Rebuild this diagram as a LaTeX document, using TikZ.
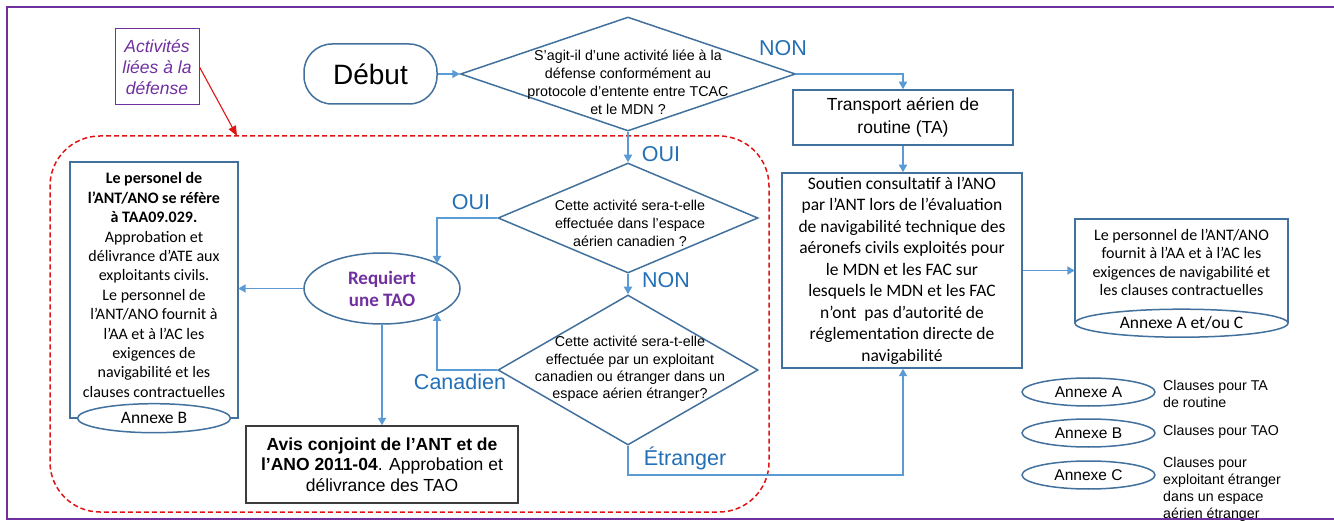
\documentclass[tikz,border=0pt]{standalone}
\usepackage{fontspec}
\setmainfont{Liberation Sans}
\newfontfamily\calfont{Carlito}
\usetikzlibrary{arrows.meta,shapes.geometric,calc}
\definecolor{bordc}{RGB}{65,113,156}
\definecolor{arrc}{RGB}{91,155,213}
\definecolor{labc}{RGB}{36,112,182}
\definecolor{purp}{RGB}{112,48,160}
\definecolor{redc}{RGB}{225,20,20}
\definecolor{darkb}{RGB}{60,60,60}
\begin{document}
\begin{tikzpicture}[x=1pt,y=-1pt,
  shp/.style={draw=bordc, line width=1.5pt, fill=white, inner sep=0pt, align=center},
  txt/.style={inner sep=0pt, align=center},
  conn/.style={draw=arrc, line width=1.8pt, -{Triangle[width=8pt,length=7.5pt]}},
  lab/.style={text=labc, inner sep=0pt, font=\fontsize{21.5}{24}\selectfont},
  ariasm/.style={font=\fontsize{14.3}{18}\selectfont},
  calsm/.style={font={\calfont\fontsize{16}{19.4}\selectfont}},
  ann/.style={shp, ellipse, minimum width=#1, minimum height=28pt},
]
\useasboundingbox (0,0) rectangle (1334,521);
\fill[white] (0,0) rectangle (1334,521);

% defence zone
\node[draw=redc, dash pattern=on 5pt off 3pt, line width=1.5pt, rounded corners=50pt,
  minimum width=719pt, minimum height=376pt, inner sep=0pt] (zone) at (409.5,324) {};
\coordinate (zonetop) at (237,136);

% activities label box
\node[draw=purp, line width=1pt, minimum width=84pt, minimum height=76pt, txt,
  text=purp, font=\fontsize{17.5}{21.3}\selectfont\itshape] (actdef) at (157,67)
  {Activités\\liées à la\\défense};
\draw[redc, line width=1.1pt, -{Triangle[width=8pt,length=10pt]}] (actdef.east) -- (zonetop);

% start
\node[shp, rounded corners=28pt, minimum width=133pt, minimum height=60pt,
  font=\fontsize{28}{30}\selectfont] (debut) at (370.5,74) {Début};

% diamonds
\node[shp, diamond, minimum width=335pt, minimum height=114pt] (d1) at (628,74) {};
\node[txt, ariasm] (d1t) at (628,82)
  {S’agit-il d’une activité liée à la\\défense conformément au\\protocole d’entente entre TCAC\\et le MDN ?};
\node[shp, diamond, minimum width=260pt, minimum height=110pt] (d2) at (628,218) {};
\node[txt, ariasm] (d2t) at (630,223)
  {Cette activité sera-t-elle\\effectuée dans l’espace\\aérien canadien ?};
\node[shp, diamond, minimum width=260pt, minimum height=150pt] (d3) at (628,370) {};
\node[txt, ariasm, font=\fontsize{14.3}{17.3}\selectfont] (d3t) at (630,369)
  {Cette activité sera-t-elle\\effectuée par un exploitant\\canadien ou étranger dans un\\espace aérien étranger?};

% transport
\node[shp, minimum width=220pt, minimum height=55pt, font=\fontsize{17.5}{23}\selectfont]
  (trans) at (903,117.5) {Transport aérien de\\routine (TA)};
% soutien
\node[shp, minimum width=240pt, minimum height=195pt,
  font={\calfont\fontsize{17.5}{21.5}\selectfont}] (sout) at (902,270.5)
  {Soutien consultatif à l’ANO\\par l’ANT lors de l’évaluation\\de navigabilité technique des\\aéronefs civils exploités pour\\le MDN et les FAC sur\\lesquels le MDN et les FAC\\n’ont\ \ pas d’autorité de\\réglementation directe de\\navigabilité};

% annex A/C document
\node[minimum width=213pt, minimum height=104pt, inner sep=0pt] (acdoc) at (1181.5,271) {};
\draw[draw=bordc, line width=1.5pt] (acdoc.south west) -- (acdoc.north west)
  -- (acdoc.north east) -- (acdoc.south east);
\node[txt, font={\calfont\fontsize{16}{18.4}\selectfont}] (actxt) at (1181.5,262.5)
  {Le personnel de l’ANT/ANO\\fournit à l’AA et à l’AC les\\exigences de navigabilité et\\les clauses contractuelles};
\node[ann=213pt, font={\calfont\fontsize{17.5}{19}\selectfont}] (acell) at (acdoc.south) {Annexe A et/ou C};

% left document
\node[minimum width=168pt, minimum height=256pt, inner sep=0pt] (pers) at (154,290) {};
\draw[draw=bordc, line width=1.5pt] ($(pers.south west)+(8,0)$) -- (pers.south west) -- (pers.north west)
  -- (pers.north east) -- (pers.south east) -- ++(-8,0);
\node[txt, calsm] (perstxt) at (154,285)
  {\textbf{Le personel de}\\\textbf{l’ANT/ANO se réfère}\\\textbf{à TAA09.029.}\\Approbation et\\délivrance d’ATE aux\\exploitants civils.\\Le personnel de\\l’ANT/ANO fournit à\\l’AA et à l’AC les\\exigences de\\navigabilité et les\\clauses contractuelles};
\node[ann=153pt, minimum height=29pt, font={\calfont\fontsize{17.5}{19}\selectfont}] (annb) at (pers.south) {Annexe B};

% TAO ellipse
\node[shp, ellipse, minimum width=156pt, minimum height=71pt, text=purp,
  font={\calfont\bfseries\fontsize{19}{22}\selectfont}] (tao) at (382,288.5) {Requiert\\une TAO};
\coordinate (taotop) at (437,263.5);
\coordinate (taobot) at (437,313.5);

% avis
\node[draw=darkb, line width=1.3pt, fill=white, minimum width=272pt, minimum height=77pt,
  txt, font=\fontsize{17.5}{20.5}\selectfont] (avis) at (382,464.5)
  {\textbf{Avis conjoint de l’ANT et de}\\\textbf{l’ANO 2011-04}. Approbation et\\délivrance des TAO};

% connectors
\draw[conn] (debut.east) -- (d1.west);
\draw[conn] (d1.east) -| (trans.north);
\draw[conn] (trans.south) -- (trans.south |- sout.north);
\draw[conn] (sout.east) -- (sout.east -| acdoc.west);
\draw[conn] (d1.south) -- (d2.north);
\draw[conn] (d2.west) -| (taotop);
\draw[conn] (d2.south) -- (d3.north);
\draw[conn] (d3.west) -| (taobot);
\draw[conn] (tao.west) -- (tao.west -| pers.east);
\draw[conn] (tao.south) -- (avis.north);
\coordinate (etr) at (628,475);
\draw[conn] (d3.south) -- (etr) -| (trans.south |- sout.south);

% labels
\node[lab] (lnon1) at (783,48) {NON};
\node[lab] (loui1) at (661,154) {OUI};
\node[lab] (loui2) at (471,202) {OUI};
\node[lab] (lnon2) at (666,280) {NON};
\node[lab] (lcan) at (460,382) {Canadien};
\node[lab] (letr) at (685,458) {Étranger};

% legend
\node[ann=133pt, font=\fontsize{15.5}{17}\selectfont] (lga) at (1088.5,392) {Annexe A};
\node[ann=133pt, font=\fontsize{15.5}{17}\selectfont] (lgb) at (1088.5,433) {Annexe B};
\node[ann=133pt, font=\fontsize{15.5}{17}\selectfont] (lgc) at (1088.5,475) {Annexe C};
\node[inner sep=0pt, align=left, anchor=west, font=\fontsize{14.2}{17.3}\selectfont] (lgat) at (1163,394) {Clauses pour TA\\de routine};
\node[inner sep=0pt, align=left, anchor=west, font=\fontsize{14.2}{17.3}\selectfont] (lgbt) at (1163,432) {Clauses pour TAO};
\node[inner sep=0pt, align=left, anchor=west, font=\fontsize{14.2}{17.2}\selectfont] (lgct) at (1163,489.5) {Clauses pour\\exploitant étranger\\dans un espace\\aérien étranger};

% frame
\draw[purp, line width=2.5pt] (1334,7) -- (7,7) -- (7,519) -- (1334,519);
\end{tikzpicture}
\end{document}
